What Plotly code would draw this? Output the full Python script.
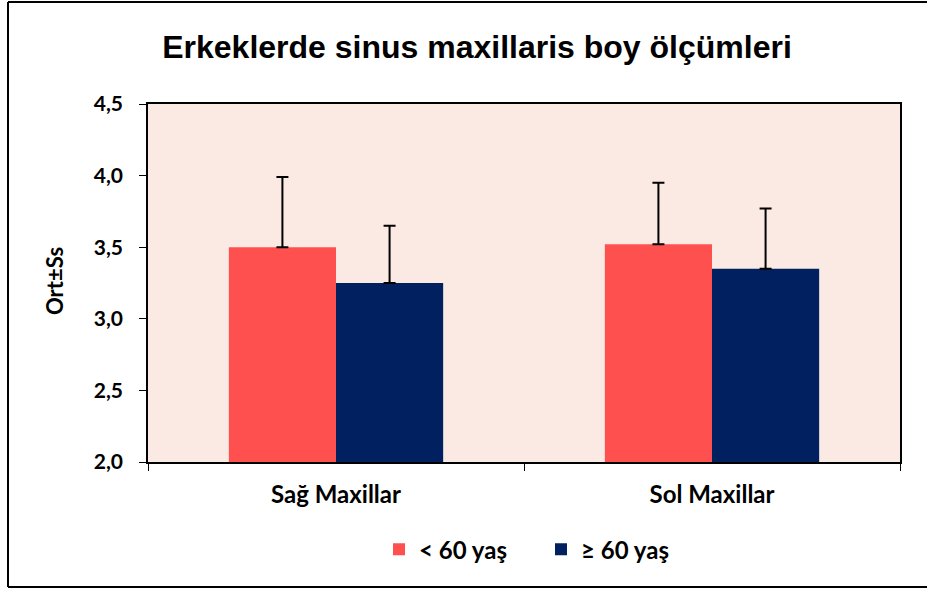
import plotly.graph_objects as go

categories = ["Sağ Maxillar", "Sol Maxillar"]
series_names = ["< 60 yaş", "≥ 60 yaş"]
under60 = [3.50, 3.52]
under60_sd = [0.49, 0.43]
over60 = [3.25, 3.35]
over60_sd = [0.40, 0.42]
y_ticks = [2.0, 2.5, 3.0, 3.5, 4.0, 4.5]
y_tick_labels = ["2,0", "2,5", "3,0", "3,5", "4,0", "4,5"]

W, H = 927, 589
L, R, T, B = 148, 27, 104, 127
pw, ph = W - L - R, H - T - B

FONT = "Lato, sans-serif"

fig = go.Figure()
for name, vals, sds, col in [(series_names[0], under60, under60_sd, "#FF5050"),
                             (series_names[1], over60, over60_sd, "#002060")]:
    fig.add_trace(go.Bar(
        x=categories, y=vals, name="<b>%s</b>" % name,
        marker=dict(color=col, line=dict(width=0)),
        error_y=dict(type="data", array=sds, arrayminus=[0] * len(sds),
                     symmetric=False, color="black", thickness=2, width=6),
    ))

fig.update_layout(
    width=W, height=H,
    margin=dict(l=L, r=R, t=T, b=B),
    paper_bgcolor="white",
    plot_bgcolor="#FBEAE3",
    barmode="group",
    bargap=0.43,
    bargroupgap=0,
    showlegend=True,
    legend=dict(orientation="h", x=(379 - L) / pw, xanchor="left", y=-0.245, yanchor="middle",
                font=dict(family=FONT, size=24, color="black"),
                entrywidth=117, traceorder="normal"),
    title=dict(text="<b>Erkeklerde sinus maxillaris boy ölçümleri</b>",
               x=477 / W, xanchor="center", xref="container",
               y=1 - 47 / H, yanchor="middle",
               font=dict(family="Liberation Sans, Arial, sans-serif", size=32, color="black")),
    font=dict(family=FONT, color="black"),
)

fig.update_xaxes(
    type="category", showline=True, linecolor="black", linewidth=2, mirror=True,
    ticks="outside", tickson="boundaries", ticklen=7, tickcolor="black", tickwidth=1,
    tickfont=dict(family=FONT, size=24, color="black"), ticklabelstandoff=10, showgrid=False,
    tickprefix="<b>", ticksuffix="</b>",
)
fig.update_yaxes(
    range=[2.0, 4.5], tickvals=y_ticks, ticktext=["<b>%s</b>" % t for t in y_tick_labels],
    showline=True, linecolor="black", linewidth=1.5, mirror=True,
    ticks="outside", ticklen=7, tickcolor="black", tickwidth=1,
    tickfont=dict(family=FONT, size=21, color="black"), ticklabelstandoff=12,
    showgrid=False, zeroline=False,
)

fig.add_annotation(text="<b>Ort±Ss</b>", textangle=-90, xref="paper", yref="paper",
                   x=(54 - L) / pw, y=(H - B - 281) / ph, xanchor="center", yanchor="middle",
                   showarrow=False, font=dict(family=FONT, size=22, color="black"))

# outer chart frame (left, top, bottom edges; right edge lies beyond the image)
for x0, y0, x1, y1 in [(8, 2, 8, 587), (8, 2, 927, 2), (8, 587, 927, 587)]:
    fig.add_shape(type="line", xref="paper", yref="paper",
                  x0=(x0 - L) / pw, x1=(x1 - L) / pw,
                  y0=(H - B - y0) / ph, y1=(H - B - y1) / ph,
                  line=dict(color="black", width=2), layer="below")

fig.write_html("out.html", config={"displayModeBar": False},
               post_script="document.body.style.margin='0';document.body.style.overflow='hidden';")
